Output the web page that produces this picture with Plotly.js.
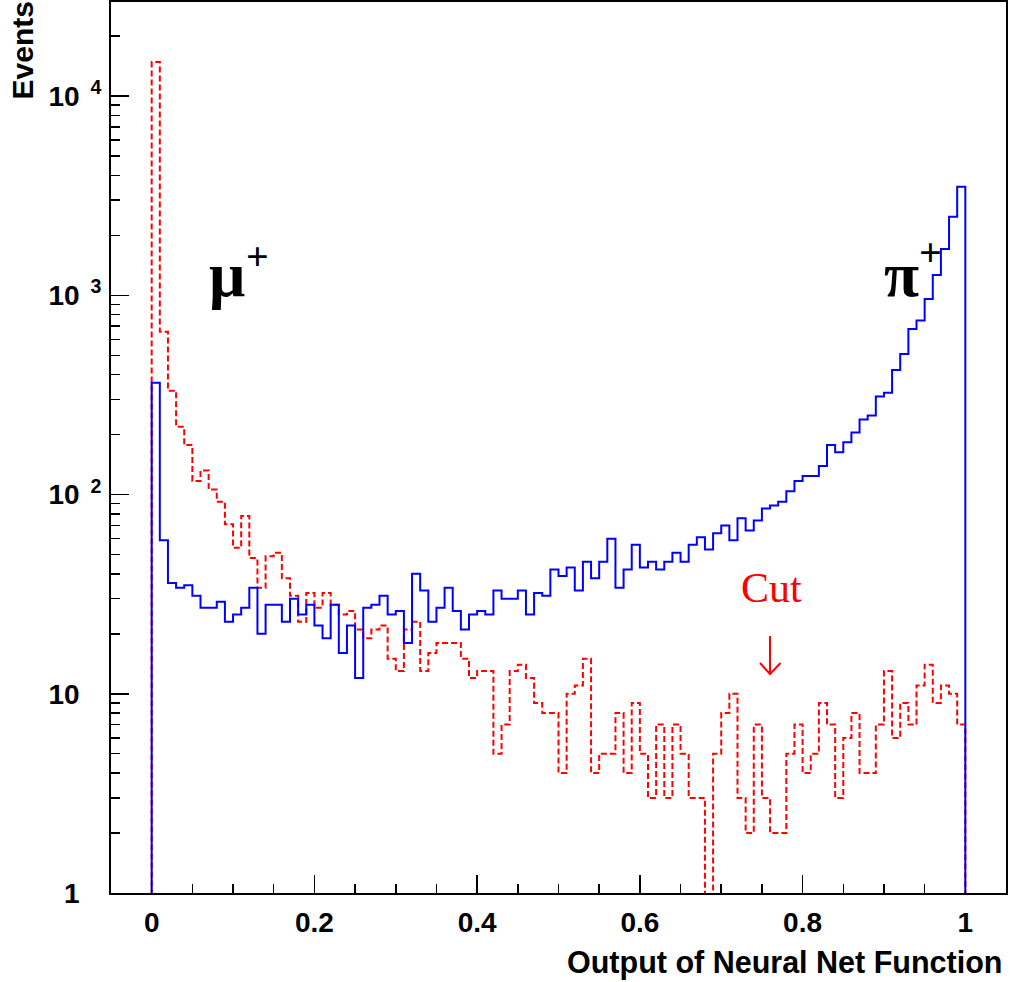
<!DOCTYPE html>
<html><head><meta charset="utf-8">
<script src="https://cdn.plot.ly/plotly-3.0.1.min.js"></script>
<style>html,body{margin:0;padding:0;background:#fff}#plot{width:1010px;height:982px}</style>
</head><body><div id="plot"></div>
<script>
// Histogram definition: 100 bins from 0 to 1
const histLow = 0;
const histHigh = 1;
const nBins = 100;

// pi+ sample (blue, solid)
const piCounts = [
  364, 59, 36, 34, 35, 31, 27, 27, 29, 23,
  25, 27, 34, 20, 28, 28, 23, 30, 25, 28,
  22, 19, 28, 16, 22, 12, 27, 28, 31, 25,
  26, 18, 40, 33, 23, 27, 34, 26, 21, 25,
  26, 25, 33, 30, 30, 33, 25, 32, 31, 42,
  39, 43, 33, 46, 38, 46, 60, 34, 42, 56,
  43, 46, 42, 46, 51, 46, 56, 61, 53, 64,
  70, 59, 76, 66, 74, 85, 88, 92, 104, 117,
  124, 124, 139, 177, 163, 183, 205, 238, 249, 310,
  324, 422, 507, 677, 748, 957, 1264, 1707, 2478, 3506
];

// mu+ sample (red, dashed)
const muCounts = [
  14800, 656, 332, 219, 177, 117, 132, 106, 92, 71,
  54, 78, 48, 34, 49, 51, 38, 31, 23, 32,
  27, 32, 28, 25, 26, 21, 19, 21, 22, 15,
  13, 21, 23, 13, 16, 18, 18, 18, 15, 12,
  13, 13, 5, 7, 13, 14, 12, 9, 8, 8,
  4, 10, 11, 15, 4, 5, 5, 8, 4, 9,
  5, 3, 7, 3, 7, 5, 3, 3, 0, 5,
  8, 10, 3, 2, 7, 3, 2, 2, 5, 7,
  4, 5, 9, 7, 3, 6, 8, 4, 4, 7,
  13, 6, 9, 7, 11, 14, 9, 11, 10, 7
];

const xTickVals = [0, 0.2, 0.4, 0.6, 0.8, 1];
const xTickText = ['0', '0.2', '0.4', '0.6', '0.8', '1'];
const yTickVals = [1, 10, 100, 1000, 10000];
const hidden = s => '<sup><span style="color:#ffffff">\u00a0\u00a0' + s + '</span></sup>';
const yTickText = ['1' + hidden('0'), '10' + hidden('0'), '10<sup>\u00a0\u00a02</sup>', '10<sup>\u00a0\u00a03</sup>', '10<sup>\u00a0\u00a04</sup>'];

const xTitle = 'Output of Neural Net Function';
const yTitle = 'Events';
const cutLabel = 'Cut';
const muLabel = 'μ', piLabel = 'π', chargeLabel = '+';

// Build a ROOT-like histogram outline (drops to below the axis at both ends and for empty bins)
const FLOOR = 0.01;
function outline(counts) {
  const w = (histHigh - histLow) / nBins;
  const xs = [histLow], ys = [FLOOR];
  counts.forEach((c, i) => { xs.push(histLow + i * w); ys.push(c > 0 ? c : FLOOR); });
  xs.push(histHigh); ys.push(counts[counts.length - 1] > 0 ? counts[counts.length - 1] : FLOOR);
  xs.push(histHigh); ys.push(FLOOR);
  return { xs, ys };
}

const mu = outline(muCounts);
const pi = outline(piCounts);

const traces = [
  { x: mu.xs, y: mu.ys, type: 'scatter', mode: 'lines', line: { shape: 'hv', color: '#ff0000', width: 2, dash: '6px,3px' }, hoverinfo: 'skip', showlegend: false },
  { x: pi.xs, y: pi.ys, type: 'scatter', mode: 'lines', line: { shape: 'hv', color: '#0000ff', width: 2 }, hoverinfo: 'skip', showlegend: false }
];

// pixel -> paper helpers for label placement
const L = 111, T = 2, W = 895, H = 891;
const px = v => (v - L) / W;
const py = v => (T + H - v) / H;

const sansBold = { family: 'Liberation Sans, Arial, sans-serif', size: 28, color: '#000', weight: 'bold' };
const serifBold = (size) => ({ family: 'Liberation Serif, Times New Roman, serif', size, color: '#000', weight: 'bold' });

// "Cut" arrow drawn as a path in paper coordinates
const arrowPath = 'M ' + px(770) + ',' + py(636) + ' L ' + px(770) + ',' + py(674) +
  ' M ' + px(760) + ',' + py(663) + ' L ' + px(770) + ',' + py(674) + ' L ' + px(780.5) + ',' + py(663);

const layout = {
  width: 1010, height: 982,
  margin: { l: L, r: 1010 - L - W, t: T, b: 982 - T - H },
  paper_bgcolor: '#fff', plot_bgcolor: '#fff',
  showlegend: false,
  xaxis: {
    range: [-0.05, 1.05], showgrid: false, zeroline: false,
    showline: true, mirror: true, linecolor: '#000', linewidth: 2,
    ticks: 'inside', ticklen: 18, tickwidth: 1.5, tickcolor: '#000',
    tickvals: xTickVals, ticktext: xTickText, tickfont: sansBold,
    ticklabelstandoff: 3,
    minor: { ticks: 'inside', ticklen: 9, tickwidth: 1.5, tickcolor: '#000', dtick: 0.05, tick0: 0, showgrid: false }
  },
  yaxis: {
    type: 'log', range: [0, 4.472], showgrid: false, zeroline: false,
    showline: true, mirror: true, linecolor: '#000', linewidth: 2,
    ticks: 'inside', ticklen: 18, tickwidth: 1.5, tickcolor: '#000',
    tickvals: yTickVals, ticktext: yTickText, tickfont: sansBold,
    ticklabelstandoff: 2,
    minor: { ticks: 'inside', ticklen: 9, tickwidth: 1.5, tickcolor: '#000', dtick: 'D1', showgrid: false }
  },
  shapes: [
    { type: 'path', xref: 'paper', yref: 'paper', path: arrowPath, line: { color: '#ff0000', width: 2 } }
  ],
  annotations: [
    { xref: 'paper', yref: 'paper', x: px(1004), y: py(962), xanchor: 'right', yanchor: 'middle', text: xTitle, showarrow: false, font: { family: 'Liberation Sans, Arial, sans-serif', size: 30.5, color: '#000', weight: 'bold' } },
    { xref: 'paper', yref: 'paper', x: px(22.5), y: py(51), xanchor: 'center', yanchor: 'middle', text: yTitle, textangle: -90, showarrow: false, font: { family: 'Liberation Sans, Arial, sans-serif', size: 30, color: '#000', weight: 'bold' } },
    { xref: 'paper', yref: 'paper', x: px(227), y: py(274), xanchor: 'center', yanchor: 'middle', text: muLabel, showarrow: false, font: serifBold(64) },
    { xref: 'paper', yref: 'paper', x: px(257), y: py(256), xanchor: 'center', yanchor: 'middle', text: chargeLabel, showarrow: false, font: serifBold(40) },
    { xref: 'paper', yref: 'paper', x: px(901.5), y: py(274), xanchor: 'center', yanchor: 'middle', text: piLabel, showarrow: false, font: serifBold(64) },
    { xref: 'paper', yref: 'paper', x: px(930), y: py(252), xanchor: 'center', yanchor: 'middle', text: chargeLabel, showarrow: false, font: serifBold(40) },
    { xref: 'paper', yref: 'paper', x: px(771), y: py(587.5), xanchor: 'center', yanchor: 'middle', text: cutLabel, showarrow: false, font: { family: 'Liberation Serif, Times New Roman, serif', size: 42, color: '#ff0000' } }
  ]
};

Plotly.newPlot('plot', traces, layout, { staticPlot: true, displayModeBar: false });
</script>
</body></html>
